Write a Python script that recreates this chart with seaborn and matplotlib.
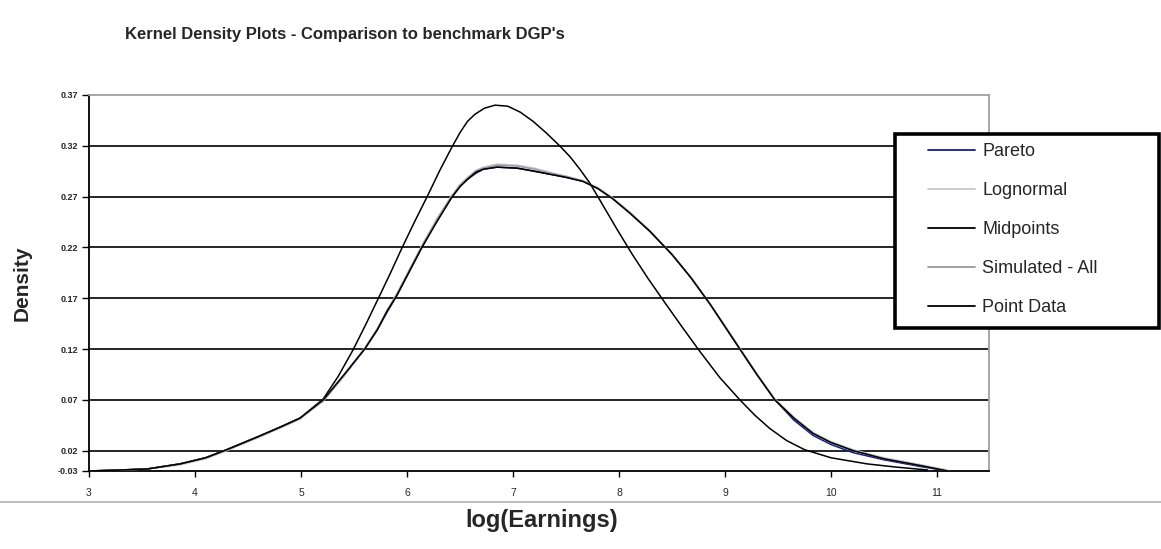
import matplotlib
matplotlib.use("Agg")
import matplotlib.pyplot as plt
import matplotlib.patches as mpatches
import seaborn as sns

# ---------------------------------------------------------------------------
# Data
# ---------------------------------------------------------------------------

# Midpoints - the tall black curve
x_mid = [3.0, 3.3, 3.55, 3.86, 4.1, 4.3, 4.6, 4.8, 4.99, 5.21, 5.35, 5.49, 5.61,
         5.73, 5.84, 5.95, 6.07, 6.19, 6.31, 6.42, 6.50, 6.57, 6.64, 6.73, 6.83,
         6.95, 7.07, 7.19, 7.31, 7.44, 7.54, 7.63, 7.72, 7.80, 7.89, 7.98, 8.05,
         8.12, 8.27, 8.43, 8.60, 8.76, 8.95, 9.14, 9.28, 9.42, 9.58, 9.75, 10.0,
         10.34, 10.6, 10.91]
y_mid = [0.000, 0.001, 0.002, 0.007, 0.013, 0.021, 0.034, 0.043, 0.052, 0.071,
         0.093, 0.119, 0.144, 0.170, 0.194, 0.219, 0.245, 0.270, 0.296, 0.318,
         0.333, 0.344, 0.351, 0.357, 0.360, 0.359, 0.353, 0.344, 0.333, 0.320,
         0.309, 0.297, 0.284, 0.270, 0.254, 0.238, 0.226, 0.214, 0.190, 0.166,
         0.141, 0.118, 0.092, 0.070, 0.055, 0.042, 0.030, 0.021, 0.013, 0.007,
         0.004, 0.001]

# the four curves that sit on top of each other
x_sim = [3.0, 3.3, 3.55, 3.86, 4.1, 4.3, 4.6, 4.8, 4.99, 5.21, 5.40, 5.60, 5.72,
         5.81, 5.90, 6.02, 6.14, 6.28, 6.42, 6.50, 6.57, 6.65, 6.72, 6.85, 7.04,
         7.20, 7.35, 7.50, 7.66, 7.80, 7.94, 8.10, 8.29, 8.50, 8.68, 8.86, 9.00,
         9.14, 9.30, 9.47, 9.65, 9.83, 10.0, 10.21, 10.5, 10.81, 11.10]
y_pareto = [0.000, 0.001, 0.002, 0.007, 0.013, 0.021, 0.034, 0.043, 0.052,
            0.069, 0.093, 0.120, 0.139, 0.156, 0.172, 0.196, 0.220, 0.246,
            0.269, 0.280, 0.287, 0.293, 0.297, 0.299, 0.298, 0.295, 0.292,
            0.289, 0.285, 0.278, 0.268, 0.254, 0.236, 0.213, 0.190, 0.164,
            0.142, 0.120, 0.095, 0.070, 0.050, 0.035, 0.026, 0.018, 0.011,
            0.005, 0.000]
y_lognormal = [0.000, 0.001, 0.002, 0.006, 0.012, 0.020, 0.033, 0.042, 0.051,
               0.069, 0.093, 0.121, 0.140, 0.158, 0.174, 0.198, 0.222, 0.248,
               0.271, 0.282, 0.289, 0.296, 0.299, 0.302, 0.301, 0.298, 0.294,
               0.290, 0.286, 0.279, 0.269, 0.255, 0.237, 0.213, 0.190, 0.164,
               0.143, 0.121, 0.096, 0.071, 0.053, 0.038, 0.029, 0.021, 0.013,
               0.007, 0.001]
y_simulated = [0.000, 0.001, 0.002, 0.007, 0.013, 0.021, 0.034, 0.043, 0.052,
               0.070, 0.094, 0.120, 0.140, 0.157, 0.173, 0.197, 0.221, 0.247,
               0.270, 0.281, 0.288, 0.295, 0.298, 0.301, 0.300, 0.297, 0.293,
               0.290, 0.285, 0.278, 0.268, 0.254, 0.236, 0.213, 0.190, 0.164,
               0.142, 0.120, 0.095, 0.070, 0.052, 0.037, 0.028, 0.020, 0.012,
               0.006, 0.000]
y_point = [0.000, 0.001, 0.002, 0.007, 0.013, 0.021, 0.034, 0.043, 0.052,
           0.070, 0.094, 0.120, 0.139, 0.157, 0.172, 0.196, 0.220, 0.245,
           0.269, 0.280, 0.287, 0.294, 0.297, 0.299, 0.298, 0.295, 0.292,
           0.289, 0.285, 0.278, 0.268, 0.254, 0.236, 0.213, 0.190, 0.164,
           0.142, 0.120, 0.095, 0.070, 0.052, 0.037, 0.028, 0.020, 0.012,
           0.006, 0.000]

series = [
    ("Pareto", x_sim, y_pareto, "#1a1a8c"),
    ("Lognormal", x_sim, y_lognormal, "#c8c8c8"),
    ("Midpoints", x_mid, y_mid, "#000000"),
    ("Simulated - All", x_sim, y_simulated, "#9a9a9a"),
    ("Point Data", x_sim, y_point, "#000000"),
]

y_ticks = [0.0, 0.02, 0.07, 0.12, 0.17, 0.22, 0.27, 0.32, 0.37]
y_labels = ["-0.03", "0.02", "0.07", "0.12", "0.17", "0.22", "0.27", "0.32", "0.37"]
x_ticks = [3, 4, 5, 6, 7, 8, 9, 10, 11]
x_labels = ["3", "4", "5", "6", "7", "8", "9", "10", "11"]

# ---------------------------------------------------------------------------
# Figure
# ---------------------------------------------------------------------------
W, H = 1161, 549
sns.set_style("white")
plt.rcParams["font.family"] = ["Liberation Sans", "DejaVu Sans"]

fig = plt.figure(figsize=(W / 100, H / 100), dpi=100)
fig.patch.set_facecolor("white")
ax = fig.add_axes([89 / W, 1 - 471 / H, 900 / W, (471 - 95) / H])

# horizontal gridlines (black, Excel style)
ax.hlines(y_ticks[1:-1], 3, 11.49, color="black", linewidth=1.2, zorder=1)

for name, xs, ys, colour in series:
    sns.lineplot(x=xs, y=ys, ax=ax, color=colour, linewidth=1.1, label=name,
                 sort=False, zorder=3)

ax.set_xlim(3, 11.49)
ax.set_ylim(0, 0.37)
ax.set_yticks(y_ticks)
ax.set_yticklabels(y_labels, fontsize=6.5, fontweight="bold")
ax.set_xticks(x_ticks)
ax.set_xticklabels(x_labels, fontsize=7.5)
ax.tick_params(axis="y", direction="out", length=5, width=1, color="black",
               left=True, pad=3)
ax.tick_params(axis="x", direction="out", length=4, width=1, color="black",
               bottom=True, pad=8)
ax.set_xlabel("")
ax.set_ylabel("")

for side in ["left", "bottom"]:
    ax.spines[side].set_color("black")
    ax.spines[side].set_linewidth(1.3)
for side in ["top", "right"]:
    ax.spines[side].set_color("#a0a0a0")
    ax.spines[side].set_linewidth(1.3)

# legend box with thick border, entries inside
handles, labels = ax.get_legend_handles_labels()
ax.get_legend().remove()
box = mpatches.Rectangle((895 / W, 1 - 328 / H), (1159 - 895) / W, (328 - 134) / H,
                         transform=fig.transFigure, facecolor="white",
                         edgecolor="black", linewidth=2.6, zorder=4)
fig.patches.append(box)
leg = fig.legend(handles, labels, loc="upper left",
                 bbox_to_anchor=(928 / W, 1 - 143 / H),
                 bbox_transform=fig.transFigure, frameon=False, fontsize=13,
                 handlelength=2.6, handletextpad=0.4, labelspacing=1.22,
                 borderpad=0, borderaxespad=0)
leg.set_zorder(5)
for line in leg.get_lines():
    line.set_linewidth(1.3)

# faint line under the tick labels
fig.add_artist(plt.Line2D([0, 1], [1 - 502 / H, 1 - 502 / H],
                          transform=fig.transFigure, color="#b0b0b0",
                          linewidth=1.2))

fig.text(125 / W, 1 - 34 / H, "Kernel Density Plots - Comparison to benchmark DGP's",
         fontsize=12, fontweight="bold", ha="left", va="center")
fig.text(22 / W, 1 - 283 / H, "Density", fontsize=15, fontweight="bold",
         rotation=90, ha="center", va="center")
fig.text(542 / W, 1 - 521 / H, "log(Earnings)", fontsize=17, fontweight="bold",
         ha="center", va="center")

fig.savefig("out.png", dpi=100, facecolor="white")
